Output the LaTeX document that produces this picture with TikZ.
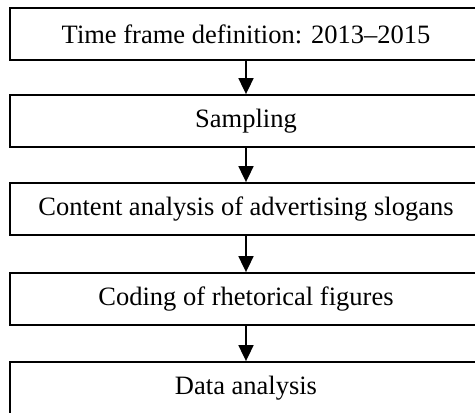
\documentclass[tikz,border=0pt]{standalone}
\usepackage{fontspec}
\setmainfont{Liberation Serif}
\usetikzlibrary{arrows.meta}
\begin{document}
\begin{tikzpicture}[x=1pt,y=1pt,
  stepbox/.style={draw=black, line width=1.8pt, minimum width=472pt, minimum height=52pt,
    inner sep=0pt, font=\fontsize{26.5}{31}\selectfont, anchor=center},
  arr/.style={line width=1.8pt, -{Triangle[width=15pt,length=16pt]}}]
\useasboundingbox (0,0) rectangle (475,413);
\clip (0,0) rectangle (475,413);
\node[stepbox] (b1) at (246,379) {Time frame definition: 2013--2015};
\node[stepbox] (b2) at (246,292) {Sampling};
\node[stepbox] (b3) at (246,204) {Content analysis of advertising slogans};
\node[stepbox] (b4) at (246,114) {Coding of rhetorical figures};
\node[stepbox] (b5) at (246,25) {Data analysis};
\draw[arr] (b1) -- (b2);
\draw[arr] (b2) -- (b3);
\draw[arr] (b3) -- (b4);
\draw[arr] (b4) -- (b5);
\end{tikzpicture}
\end{document}
